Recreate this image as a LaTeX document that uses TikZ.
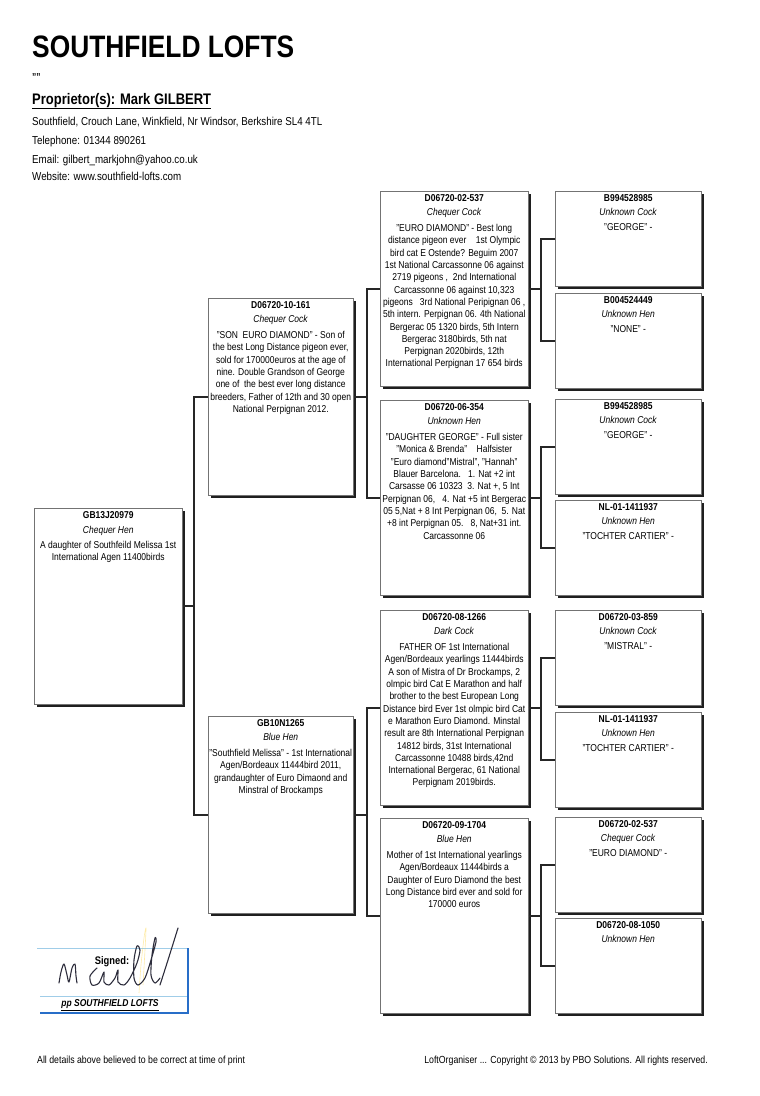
\documentclass[tikz,border=0pt]{standalone}
\usepackage{fontspec}
\setmainfont{Liberation Sans}[FakeStretch=0.85]
\usetikzlibrary{shadows, positioning}
\usepackage{xcolor}

\definecolor{sigblue}{RGB}{40,110,200}
\definecolor{siglight}{RGB}{160,205,232}
\definecolor{sigink}{RGB}{45,45,60}

\tikzset{
  pigbox/.style={draw=black!55, line width=0.5pt, fill=white, anchor=north west, inner sep=0pt,
    drop shadow={shadow xshift=2.6pt, shadow yshift=-2.6pt, fill=black!88, opacity=1}},
  big/.style={minimum width=148pt, minimum height=195pt},
  small/.style={minimum width=146pt, minimum height=95pt},
  birdtxt/.style={align=center, inner sep=0pt, font=\fontsize{10}{12.3}\selectfont},
  link/.style={draw=black!85, line width=2.3pt},
  headtxt/.style={anchor=base west, inner sep=0pt}
}

\begin{document}
\begin{tikzpicture}[x=1pt, y=-1pt]
  \useasboundingbox (0,0) rectangle (760,1096);

  % Header
  \node[headtxt, font=\bfseries\fontsize{31}{31}\selectfont] (title) at (32,57) {SOUTHFIELD LOFTS};
  \node[headtxt, font=\bfseries\fontsize{10}{10}\selectfont] (marks) at (32,80) {\char"0027\char"0027\char"0027\char"0027};
  \node[headtxt, font=\bfseries\fontsize{15.3}{15.3}\selectfont] (prop) at (32,104) {\underline{Proprietor(s): Mark GILBERT}};
  \node[headtxt, font=\fontsize{11.5}{11.5}\selectfont] (addr) at (32,125) {Southfield, Crouch Lane, Winkfield, Nr Windsor, Berkshire SL4 4TL};
  \node[headtxt, font=\fontsize{11.5}{11.5}\selectfont] (phone) at (32,144) {Telephone: 01344 890261};
  \node[headtxt, font=\fontsize{11.5}{11.5}\selectfont] (email) at (32,163) {Email: gilbert\_markjohn@yahoo.co.uk};
  \node[headtxt, font=\fontsize{11.5}{11.5}\selectfont] (web) at (32,180) {Website: www.southfield-lofts.com};

  % Pedigree boxes
  \node[pigbox, minimum width=148pt, minimum height=196pt] (bird) at (34,508) {};
  \node[pigbox, minimum width=145pt, minimum height=197pt] (s) at (208,298) {};
  \node[pigbox, minimum width=145pt, minimum height=197pt] (d) at (208,716) {};
  \node[pigbox, big] (ss) at (380,191) {};
  \node[pigbox, big] (sd) at (380,400) {};
  \node[pigbox, big] (ds) at (380,610) {};
  \node[pigbox, big] (dd) at (380,818) {};
  \node[pigbox, small] (sss) at (555,191) {};
  \node[pigbox, small] (ssd) at (555,293) {};
  \node[pigbox, small] (sds) at (555,399) {};
  \node[pigbox, small] (sdd) at (555,500) {};
  \node[pigbox, small] (dss) at (555,610) {};
  \node[pigbox, small] (dsd) at (555,712) {};
  \node[pigbox, small] (dds) at (555,817) {};
  \node[pigbox, small] (ddd) at (555,918) {};

  % Connect each bird to its parents
  \draw[link] (bird.east) -- ++(12,0);
  \draw[link] (s.west) -- ++(-14,0) |- (d.west);
  \draw[link] (s.east) -- ++(14,0);
  \draw[link] (ss.west) -- ++(-13,0) |- (sd.west);
  \draw[link] (d.east) -- ++(14,0);
  \draw[link] (ds.west) -- ++(-13,0) |- (dd.west);
  \draw[link] (ss.east) -- ++(13,0);
  \draw[link] (sss.west) -- ++(-14,0) |- (ssd.west);
  \draw[link] (sd.east) -- ++(13,0);
  \draw[link] (sds.west) -- ++(-14,0) |- (sdd.west);
  \draw[link] (ds.east) -- ++(13,0);
  \draw[link] (dss.west) -- ++(-14,0) |- (dsd.west);
  \draw[link] (dd.east) -- ++(13,0);
  \draw[link] (dds.west) -- ++(-14,0) |- (ddd.west);

  % Box texts
  \node[birdtxt, below=3.5pt of bird.north] (birdt) {\textbf{GB13J20979}\\[2.7pt]\textit{Chequer Hen}\\[2.7pt]
    A daughter of Southfeild Melissa 1st\\International Agen 11400birds};
  \node[birdtxt, below=3.5pt of s.north] (st) {\textbf{D06720-10-161}\\[1.7pt]\textit{Chequer Cock}\\[3.7pt]
    "SON\ \ EURO DIAMOND" - Son of\\the best Long Distance pigeon ever,\\sold for 170000euros at the age of\\
    nine. Double Grandson of George\\one of\ \ the best ever long distance\\breeders, Father of 12th and 30 open\\
    National Perpignan 2012.};
  \node[birdtxt, below=3.5pt of d.north] (dt) {\textbf{GB10N1265}\\[1.7pt]\textit{Blue Hen}\\[3.7pt]
    "Southfield Melissa" - 1st International\\Agen/Bordeaux 11444bird 2011,\\grandaughter of Euro Dimaond and\\
    Minstral of Brockamps};
  \node[birdtxt, below=3.5pt of ss.north] (sst) {\textbf{D06720-02-537}\\[1.7pt]\textit{Chequer Cock}\\[3.7pt]
    "EURO DIAMOND" - Best long\\distance pigeon ever\ \ \ \ 1st Olympic\\bird cat E Ostende? Beguim 2007\\
    1st National Carcassonne 06 against\\2719 pigeons ,\ \ 2nd International\\Carcassonne 06 against 10,323\\
    pigeons\ \ \ 3rd National Peripignan 06 ,\\5th intern. Perpignan 06. 4th National\\Bergerac 05 1320 birds, 5th Intern\\
    Bergerac 3180birds, 5th nat\\Perpignan 2020birds, 12th\\International Perpignan 17 654 birds};
  \node[birdtxt, below=3.5pt of sd.north] (sdt) {\textbf{D06720-06-354}\\[1.7pt]\textit{Unknown Hen}\\[3.7pt]
    "DAUGHTER GEORGE" - Full sister\\"Monica \& Brenda"\ \ \ \ Halfsister\\"Euro diamond"Mistral", "Hannah"\\
    Blauer Barcelona.\ \ \ 1. Nat +2 int\\Carsasse 06 10323\ \ 3. Nat +, 5 Int\\Perpignan 06,\ \ \ 4. Nat +5 int Bergerac\\
    05 5,Nat + 8 Int Perpignan 06,\ \ 5. Nat\\+8 int Perpignan 05.\ \ \ 8, Nat+31 int.\\Carcassonne 06};
  \node[birdtxt, below=3.5pt of ds.north] (dst) {\textbf{D06720-08-1266}\\[1.7pt]\textit{Dark Cock}\\[3.7pt]
    FATHER OF 1st International\\Agen/Bordeaux yearlings 11444birds\\A son of Mistra of Dr Brockamps, 2\\
    olmpic bird Cat E Marathon and half\\brother to the best European Long\\Distance bird Ever 1st olmpic bird Cat\\
    e Marathon Euro Diamond. Minstal\\result are 8th International Perpignan\\14812 birds, 31st International\\
    Carcassonne 10488 birds,42nd\\International Bergerac, 61 National\\Perpignam 2019birds.};
  \node[birdtxt, below=3.5pt of dd.north] (ddt) {\textbf{D06720-09-1704}\\[1.7pt]\textit{Blue Hen}\\[3.7pt]
    Mother of 1st International yearlings\\Agen/Bordeaux 11444birds a\\Daughter of Euro Diamond the best\\
    Long Distance bird ever and sold for\\170000 euros};
  \node[birdtxt, below=3.5pt of sss.north] (ssst) {\textbf{B994528985}\\[1.7pt]\textit{Unknown Cock}\\[2.2pt]"GEORGE" -};
  \node[birdtxt, below=3.5pt of ssd.north] (ssdt) {\textbf{B004524449}\\[1.7pt]\textit{Unknown Hen}\\[2.2pt]"NONE" -};
  \node[birdtxt, below=3.5pt of sds.north] (sdst) {\textbf{B994528985}\\[1.7pt]\textit{Unknown Cock}\\[2.2pt]"GEORGE" -};
  \node[birdtxt, below=3.5pt of sdd.north] (sddt) {\textbf{NL-01-1411937}\\[1.7pt]\textit{Unknown Hen}\\[2.2pt]"TOCHTER CARTIER" -};
  \node[birdtxt, below=3.5pt of dss.north] (dsst) {\textbf{D06720-03-859}\\[1.7pt]\textit{Unknown Cock}\\[2.2pt]"MISTRAL" -};
  \node[birdtxt, below=3.5pt of dsd.north] (dsdt) {\textbf{NL-01-1411937}\\[1.7pt]\textit{Unknown Hen}\\[2.2pt]"TOCHTER CARTIER" -};
  \node[birdtxt, below=3.5pt of dds.north] (ddst) {\textbf{D06720-02-537}\\[1.7pt]\textit{Chequer Cock}\\[2.2pt]"EURO DIAMOND" -};
  \node[birdtxt, below=3.5pt of ddd.north] (dddt) {\textbf{D06720-08-1050}\\[1.7pt]\textit{Unknown Hen}};

  % Signature panel
  \draw[siglight, line width=0.8pt] (37,948) -- (188,948);
  \draw[siglight, line width=0.8pt] (40,996) -- (188,996);
  \draw[sigblue, line width=1.3pt] (188,948) -- (188,1013) -- (40,1013);
  \draw[yellow!60!orange, opacity=0.35, line width=0.6pt] plot[smooth] coordinates {(139,993) (141,965) (144,938) (146,928) (145,950) (143,985)};
  \node[font=\bfseries\fontsize{11}{11}\selectfont, inner sep=0pt] (signed) at (112,962) {Signed:};
  \draw[sigink, line width=1.1pt, line cap=round, line join=round] plot[smooth] coordinates {(59,983) (61,972) (64,964) (67,975) (69,982) (72,968) (75,964) (76,976) (77,983)};
  \draw[sigink, line width=1.1pt, line cap=round, line join=round] plot[smooth] coordinates {(97,968) (90,976) (92,985) (99,983) (104,972) (104,982) (109,985) (115,978) (118,970) (118,982) (124,985) (130,978) (137,963) (140,950) (137,946) (134,960) (134,978) (138,985) (145,978) (151,960) (156,942) (155,938) (152,955) (151,975) (155,983) (160,978)};
  \draw[sigink, line width=1.1pt, line cap=round] plot[smooth] coordinates {(160,985) (168,960) (178,928)};
  \node[font=\bfseries\itshape\fontsize{10}{10}\selectfont, inner sep=0pt] (pp) at (110,1005) {\underline{pp SOUTHFIELD LOFTS}};

  % Footer
  \node[headtxt, font=\fontsize{10.3}{10.3}\selectfont] (note) at (37,1063) {All details above believed to be correct at time of print};
  \node[anchor=base east, inner sep=0pt, font=\fontsize{10.3}{10.3}\selectfont] (copy) at (708,1063) {LoftOrganiser ... Copyright \textcopyright{} 2013 by PBO Solutions. All rights reserved.};
\end{tikzpicture}
\end{document}
